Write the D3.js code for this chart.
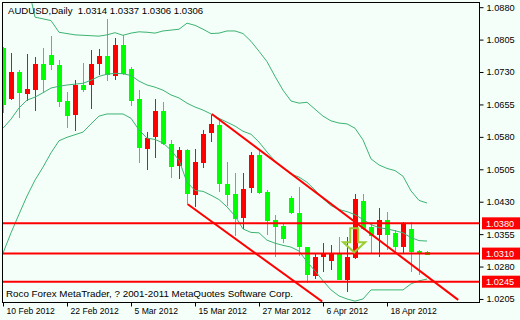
<!DOCTYPE html>
<html>
<head>
<meta charset="utf-8">
<script src="https://cdn.jsdelivr.net/npm/d3@7/dist/d3.min.js"></script>
<style>
	html, body { margin: 0; padding: 0; background: #F5FFFA; }
	svg { display: block; }
</style>
</head>
<body>
<div id="chart"></div>
<script>
// --- Data

var dates = [
	'2012-02-10','2012-02-13','2012-02-14','2012-02-15','2012-02-16','2012-02-17','2012-02-20','2012-02-21','2012-02-22','2012-02-23',
	'2012-02-24','2012-02-27','2012-02-28','2012-02-29','2012-03-01','2012-03-02','2012-03-05','2012-03-06','2012-03-07','2012-03-08',
	'2012-03-09','2012-03-12','2012-03-13','2012-03-14','2012-03-15','2012-03-16','2012-03-19','2012-03-20','2012-03-21','2012-03-22',
	'2012-03-23','2012-03-26','2012-03-27','2012-03-28','2012-03-29','2012-03-30','2012-04-02','2012-04-03','2012-04-04','2012-04-05',
	'2012-04-06','2012-04-09','2012-04-10','2012-04-11','2012-04-12','2012-04-13','2012-04-16','2012-04-17','2012-04-18','2012-04-19',
	'2012-04-20','2012-04-23','2012-04-24','2012-04-25'
]

var opens = [
	1.0785,1.0667,1.0730,1.0680,1.0688,1.0748,1.0769,1.0746,1.0663,1.0630,
	1.0700,1.0700,1.0748,1.0767,1.0721,1.0792,1.0737,1.0667,1.0552,1.0579,
	1.0640,1.0563,1.0513,1.0549,1.0445,1.0520,1.0588,1.0607,1.0472,1.0447,
	1.0392,1.0462,1.0538,1.0452,1.0388,1.0374,1.0438,1.0403,1.0325,1.0258,
	1.0301,1.0294,1.0309,1.0249,1.0299,1.0432,1.0372,1.0353,1.0388,1.0358,
	1.0326,1.0366,1.0317,1.0314
]
var highs = [
	1.0788,1.0774,1.0734,1.0771,1.0765,1.0785,1.0813,1.0758,1.0684,1.0711,
	1.0751,1.0781,1.0783,1.0852,1.0808,1.0815,1.0742,1.0688,1.0592,1.0668,
	1.0661,1.0573,1.0557,1.0551,1.0551,1.0597,1.0630,1.0619,1.0522,1.0496,
	1.0496,1.0546,1.0553,1.0457,1.0399,1.0381,1.0443,1.0465,1.0326,1.0311,
	1.0335,1.0330,1.0348,1.0348,1.0448,1.0448,1.0380,1.0415,1.0407,1.0365,
	1.0384,1.0384,1.0318,1.0315
]
var lows = [
	1.0636,1.0666,1.0624,1.0663,1.0640,1.0684,1.0734,1.0650,1.0601,1.0594,
	1.0684,1.0644,1.0723,1.0709,1.0711,1.0724,1.0651,1.0520,1.0503,1.0530,
	1.0562,1.0486,1.0482,1.0422,1.0418,1.0507,1.0568,1.0453,1.0420,1.0350,
	1.0368,1.0451,1.0448,1.0353,1.0303,1.0335,1.0402,1.0304,1.0241,1.0251,
	1.0268,1.0272,1.0248,1.0222,1.0297,1.0365,1.0309,1.0301,1.0318,1.0314,
	1.0311,1.0268,1.0261,1.0306
]
var closes = [
	1.0653,1.0730,1.0682,1.0690,1.0748,1.0711,1.0746,1.0661,1.0628,1.0700,
	1.0688,1.0748,1.0767,1.0723,1.0792,1.0725,1.0663,1.0555,1.0577,1.0640,
	1.0563,1.0511,1.0549,1.0448,1.0522,1.0587,1.0610,1.0472,1.0445,1.0389,
	1.0459,1.0538,1.0449,1.0386,1.0372,1.0343,1.0404,1.0326,1.0261,1.0301,
	1.0309,1.0309,1.0249,1.0301,1.0436,1.0368,1.0351,1.0388,1.0353,1.0326,
	1.0380,1.0314,1.0312,1.0306
]

// Bollinger bands
var bbUpper = [
	1.0955,1.0955,1.0950,1.0940,1.0857,1.0853,1.0849,1.0822,1.0819,1.0816,
	1.0815,1.0814,1.0813,1.0816,1.0821,1.0815,1.0820,1.0823,1.0822,1.0820,
	1.0825,1.0827,1.0829,1.0843,1.0838,1.0829,1.0819,1.0820,1.0825,1.0825,
	1.0819,1.0801,1.0778,1.0754,1.0720,1.0688,1.0663,1.0658,1.0660,1.0644,
	1.0628,1.0617,1.0612,1.0610,1.0600,1.0573,1.0529,1.0515,1.0507,1.0502,
	1.0489,1.0455,1.0433,1.0427
]
var bbMiddle = [
	1.0600,1.0621,1.0647,1.0665,1.0672,1.0682,1.0693,1.0697,1.0700,1.0702,
	1.0704,1.0711,1.0720,1.0725,1.0727,1.0726,1.0722,1.0709,1.0700,1.0695,
	1.0688,1.0677,1.0670,1.0658,1.0649,1.0642,1.0633,1.0623,1.0614,1.0605,
	1.0593,1.0586,1.0568,1.0545,1.0524,1.0508,1.0494,1.0487,1.0475,1.0457,
	1.0437,1.0421,1.0412,1.0407,1.0400,1.0389,1.0377,1.0370,1.0367,1.0363,
	1.0358,1.0347,1.0340,1.0339
]
var bbLower = [
	1.0311,1.0358,1.0401,1.0443,1.0480,1.0510,1.0543,1.0571,1.0579,1.0585,
	1.0591,1.0610,1.0628,1.0633,1.0633,1.0633,1.0623,1.0596,1.0577,1.0574,
	1.0566,1.0549,1.0526,1.0475,1.0456,1.0454,1.0445,1.0435,1.0418,1.0397,
	1.0367,1.0359,1.0358,1.0341,1.0334,1.0329,1.0325,1.0316,1.0291,1.0270,
	1.0247,1.0226,1.0212,1.0205,1.0200,1.0205,1.0226,1.0226,1.0226,1.0226,
	1.0226,1.0240,1.0247,1.0251
]

// Axis ticks
var priceTicks = [1.0880, 1.0805, 1.0730, 1.0655, 1.0580, 1.0505, 1.0430, 1.0355, 1.0280, 1.0205]
var dateTicks = ['2012-02-10','2012-02-22','2012-03-05','2012-03-15','2012-03-27','2012-04-06','2012-04-18']

// Chart objects: horizontal levels, trend channel (bar index, price), arrow
var levels = [1.0380, 1.0310, 1.0245]
var trendStart = [[26.1, 1.0633], [23.1, 1.0424]]
var trendEnd = [[56.9, 1.0203], [39.9, 1.0199]]
var arrowAt = [43.9, 1.0313]

var headerText = 'AUDUSD,Daily  1.0314 1.0337 1.0306 1.0306'
var footerText = 'Roco Forex MetaTrader, ? 2001-2011 MetaQuotes Software Corp.'

// --- Settings

var settings = {}
settings.width = 520
settings.height = 320
settings.plot = {left: 2, top: 2, right: 479, bottom: 302}
settings.bg = '#F5FFFA'
settings.bull = '#FF0000'
settings.bear = '#00FF00'
settings.band = '#3CB371'
settings.font = '"Liberation Sans", Arial, sans-serif'

var p = settings.plot

var svg = d3.select('#chart').append('svg')
	.attr('width', settings.width)
	.attr('height', settings.height)
	.style('font-family', settings.font)

svg.append('rect')
	.attr('width', settings.width)
	.attr('height', settings.height)
	.attr('fill', settings.bg)

// Scales: one bar every 8px, empty space kept on the right
var x = d3.scaleLinear()
	.domain([0, dates.length - 1])
	.range([3, 3 + 8 * (dates.length - 1)])

var y = d3.scaleLinear()
	.domain([1.0198, 1.0892])
	.range([p.bottom, p.top])

svg.append('clipPath').attr('id', 'plot-clip')
	.append('rect')
	.attr('x', p.left)
	.attr('y', p.top)
	.attr('width', p.right - p.left)
	.attr('height', p.bottom - p.top)

var plot = svg.append('g').attr('clip-path', 'url(#plot-clip)')

// Candles
var bars = d3.range(dates.length)

plot.append('g').selectAll('line')
	.data(bars).join('line')
	.attr('x1', function(i){ return Math.round(x(i)) + 0.5 })
	.attr('x2', function(i){ return Math.round(x(i)) + 0.5 })
	.attr('y1', function(i){ return y(highs[i]) })
	.attr('y2', function(i){ return y(lows[i]) })
	.attr('stroke', function(i){ return closes[i] < opens[i] ? settings.bear : settings.bull })
	.attr('stroke-width', 1)
	.attr('shape-rendering', 'crispEdges')

plot.append('g').selectAll('rect')
	.data(bars).join('rect')
	.attr('x', function(i){ return Math.round(x(i)) - 2 })
	.attr('width', 5)
	.attr('y', function(i){ return y(Math.max(opens[i], closes[i])) })
	.attr('height', function(i){ return Math.max(1, Math.abs(y(opens[i]) - y(closes[i]))) })
	.attr('fill', function(i){ return closes[i] < opens[i] ? settings.bear : settings.bull })
	.attr('shape-rendering', 'crispEdges')

// Bollinger bands
var bandLine = d3.line()
	.x(function(d, i){ return x(i) })
	.y(function(d){ return y(d) })

;[bbUpper, bbMiddle, bbLower].forEach(function(band){
	plot.append('path')
		.attr('d', bandLine(band))
		.attr('fill', 'none')
		.attr('stroke', settings.band)
		.attr('stroke-width', 1)
})

// Horizontal levels
plot.append('g').selectAll('line')
	.data(levels).join('line')
	.attr('x1', p.left)
	.attr('x2', p.right)
	.attr('y1', function(d){ return y(d) })
	.attr('y2', function(d){ return y(d) })
	.attr('stroke', '#FF0000')
	.attr('stroke-width', 2)

// Trend channel
trendStart.forEach(function(s, k){
	var e = trendEnd[k]
	plot.append('line')
		.attr('x1', x(s[0])).attr('y1', y(s[1]))
		.attr('x2', x(e[0])).attr('y2', y(e[1]))
		.attr('stroke', '#FF0000')
		.attr('stroke-width', 2)
})

// Down arrow object (tip on the anchor)
var ax = x(arrowAt[0])
var ay = y(arrowAt[1])
var arrowShape = [[-4, -24], [4, -24], [4, -10], [11, -10], [0, 0], [-11, -10], [-4, -10]]
plot.append('path')
	.attr('d', d3.line()(arrowShape.map(function(pt){ return [ax + pt[0], ay + pt[1]] })) + 'Z')
	.attr('fill', 'none')
	.attr('stroke', '#9ACD32')
	.attr('stroke-width', 2)
	.attr('stroke-linejoin', 'miter')

// Header and footer
svg.append('text')
	.attr('x', 8)
	.attr('y', 14)
	.attr('font-size', 9.6)
	.attr('fill', '#000')
	.style('white-space', 'pre')
	.text(headerText)

svg.append('text')
	.attr('x', 6)
	.attr('y', 297)
	.attr('font-size', 9.8)
	.attr('fill', '#000')
	.text(footerText)

// Frame
svg.append('rect')
	.attr('x', p.left + 0.5)
	.attr('y', p.top + 0.5)
	.attr('width', p.right - p.left)
	.attr('height', p.bottom - p.top)
	.attr('fill', 'none')
	.attr('stroke', '#000')
	.attr('stroke-width', 1)
	.attr('shape-rendering', 'crispEdges')

// Right price axis
var yAxis = svg.append('g')
	.attr('transform', 'translate(' + (p.right + 0.5) + ',0)')
	.call(d3.axisRight(y)
		.tickValues(priceTicks)
		.tickSize(4)
		.tickPadding(3)
		.tickFormat(d3.format('.4f')))
yAxis.select('.domain').remove()
yAxis.selectAll('text').attr('font-size', 9.2).attr('font-family', settings.font).attr('fill', '#000')
yAxis.selectAll('line').attr('stroke', '#000')

// Level labels on the price axis
var levelLabels = svg.append('g').selectAll('g')
	.data(levels).join('g')
	.attr('transform', function(d){ return 'translate(' + (p.right + 3) + ',' + y(d) + ')' })
levelLabels.append('rect')
	.attr('x', 0)
	.attr('y', -6)
	.attr('width', 40)
	.attr('height', 12)
	.attr('fill', '#FF0000')
levelLabels.append('text')
	.attr('x', 4)
	.attr('dy', '0.35em')
	.attr('font-size', 9.2)
	.attr('fill', '#FFFFFF')
	.text(d3.format('.4f'))

// Bottom date axis
var fmt = d3.timeFormat('%-d %b %Y')
var parse = d3.timeParse('%Y-%m-%d')
var xAxis = svg.append('g')
	.attr('transform', 'translate(0,' + (p.bottom + 0.5) + ')')
	.call(d3.axisBottom(x)
		.tickValues(dateTicks.map(function(d){ return dates.indexOf(d) }))
		.tickSize(4)
		.tickFormat(function(i){ return fmt(parse(dates[i])) }))
xAxis.select('.domain').remove()
xAxis.selectAll('line').attr('stroke', '#000')
xAxis.selectAll('text')
	.attr('text-anchor', 'start')
	.attr('x', 3)
	.attr('y', 5)
	.attr('font-size', 8.6)
	.attr('font-family', settings.font)
	.attr('fill', '#000')
</script>
</body>
</html>
